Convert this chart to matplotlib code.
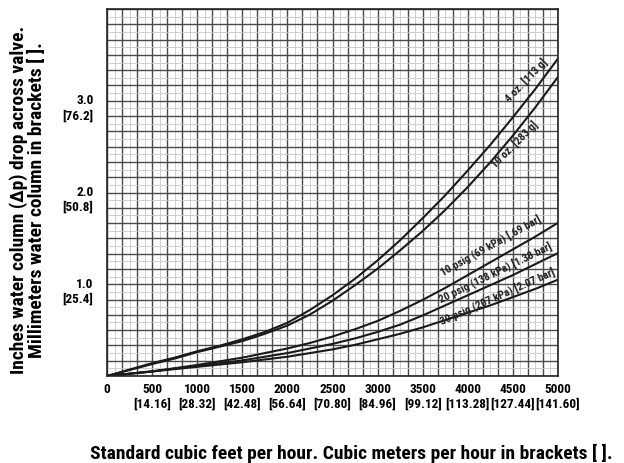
import matplotlib
matplotlib.use("Agg")
import matplotlib.pyplot as plt
import matplotlib.transforms as mtransforms
from matplotlib.ticker import MultipleLocator

# ---- data ----
flow_scfh = [0, 250, 500, 750, 1000, 1250, 1500, 1750, 2000, 2250, 2500,
             2750, 3000, 3250, 3500, 3750, 4000, 4250, 4500, 4750, 5000]
oz4 = [0, 0.07, 0.14, 0.20, 0.27, 0.33, 0.40, 0.48, 0.58, 0.72, 0.88,
       1.06, 1.26, 1.48, 1.72, 1.97, 2.24, 2.52, 2.82, 3.13, 3.46]
oz10 = [0, 0.065, 0.13, 0.19, 0.26, 0.32, 0.38, 0.46, 0.55, 0.67, 0.82,
        0.99, 1.17, 1.37, 1.58, 1.81, 2.06, 2.33, 2.62, 2.93, 3.26]
psig10 = [0, 0.025, 0.05, 0.085, 0.12, 0.16, 0.20, 0.25, 0.30, 0.36, 0.43,
          0.51, 0.60, 0.71, 0.83, 0.96, 1.10, 1.24, 1.38, 1.52, 1.67]
psig20 = [0, 0.025, 0.05, 0.08, 0.11, 0.14, 0.17, 0.21, 0.25, 0.30, 0.35,
          0.41, 0.48, 0.56, 0.66, 0.77, 0.88, 0.99, 1.10, 1.22, 1.34]
psig30 = [0, 0.025, 0.05, 0.075, 0.10, 0.125, 0.15, 0.18, 0.21, 0.25, 0.29,
          0.34, 0.40, 0.46, 0.53, 0.61, 0.69, 0.77, 0.86, 0.95, 1.05]

xtick_vals = [0, 500, 1000, 1500, 2000, 2500, 3000, 3500, 4000, 4500, 5000]
xtick_labels = ["0", "500\n[14.16]", "1000\n[28.32]", "1500\n[42.48]", "2000\n[56.64]",
                "2500\n[70.80]", "3000\n[84.96]", "3500\n[99.12]", "4000\n[113.28]",
                "4500\n[127.44]", "5000\n[141.60]"]
ytick_vals = [1, 2, 3]
ytick_labels = ["1.0\n[25.4]", "2.0\n[50.8]", "3.0\n[76.2]"]

curve_labels = ["4 oz. [113 g]", "10 oz. [283 g]", "10 psig (69 kPa) [.69 bar]",
                "20 psig (138 kPa) [1.38 bar]", "30 psig (207 kPa) [2.07 bar]"]

FONT = ["Roboto Condensed", "DejaVu Sans"]
plt.rcParams["font.family"] = FONT

fig = plt.figure(figsize=(6.24, 4.63), dpi=100)
ax = fig.add_axes([107/624, 87/463, 451/624, 367/463])

ax.set_xlim(0, 5000)
ax.set_ylim(0, 4.0)

# graph-paper grid
ax.xaxis.set_major_locator(MultipleLocator(500/3))
ax.yaxis.set_major_locator(MultipleLocator(1/6))
ax.xaxis.set_minor_locator(MultipleLocator(500/6))
ax.yaxis.set_minor_locator(MultipleLocator(1/12))
ax.grid(which="major", color="#4a4a4a", lw=1.0)
ax.grid(which="minor", color="#c8c8c8", lw=0.6)
ax.set_axisbelow(True)
ax.tick_params(which="both", length=0, labelbottom=False, labelleft=False)

for s in ax.spines.values():
    s.set_color("#222222")
    s.set_linewidth(1.2)

for ys in (oz4, oz10, psig10, psig20, psig30):
    ax.plot(flow_scfh, ys, color="#1a1a1a", lw=1.5)

# tick labels
xt = ax.get_xaxis_transform()
for v, lab in zip(xtick_vals, xtick_labels):
    ax.text(v, -0.018, lab, transform=xt, ha="center", va="top", fontsize=9.5,
            fontweight="bold", linespacing=1.2)
yt = ax.get_yaxis_transform()
for v, lab in zip(ytick_vals, ytick_labels):
    ax.text(-0.03, v, lab,
            transform=yt + mtransforms.ScaledTranslation(0, 6.5/100, fig.dpi_scale_trans),
            ha="right", va="top", fontsize=9.5, fontweight="bold", linespacing=1.2)

fig.text(28/624, 1 - 200/463,
         "Inches water column (\u0394p) drop across valve.\nMillimeters water column in brackets [ ].",
         rotation=90, ha="center", va="center", fontsize=14, fontweight="bold",
         linespacing=1.0)
fig.text(351/624, 1 - 453/463,
         "Standard cubic feet per hour. Cubic meters per hour in brackets [ ].",
         ha="center", va="center", fontsize=14, fontweight="bold")

# curve labels
lab_pos = [(4650, 3.22, 46), (4520, 2.52, 45), (4250, 1.42, 29), (4300, 1.13, 26), (4330, 0.87, 24)]
for (x, y, r), txt in zip(lab_pos, curve_labels):
    ax.text(x, y, txt, ha="center", va="center", rotation=r, fontsize=8,
            fontweight="bold", color="#222222", rotation_mode="anchor")

fig.savefig("out.png", dpi=100)
